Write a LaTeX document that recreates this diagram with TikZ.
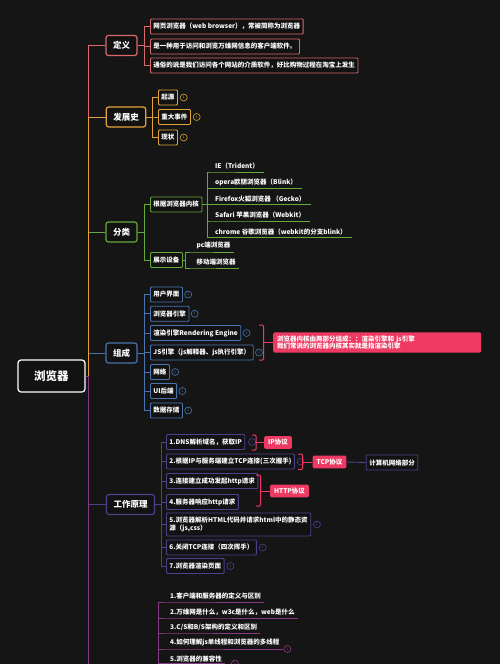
\documentclass[tikz,border=0pt]{standalone}
\usepackage{fontspec}
\setmainfont{Noto Sans CJK SC}
\usetikzlibrary{positioning}
\definecolor{pagebg}{HTML}{151515}
\definecolor{boxbg}{HTML}{121212}
\definecolor{defc}{HTML}{D9696B}
\definecolor{histc}{HTML}{E3A33B}
\definecolor{clsc}{HTML}{66A83A}
\definecolor{compc}{HTML}{4A74AE}
\definecolor{workc}{HTML}{4E3F8F}
\definecolor{miscc}{HTML}{8A3A82}
\definecolor{tagc}{HTML}{EE3A63}
\tikzset{
  topic/.style={draw=#1, line width=1.2pt, rounded corners=2.5pt, fill=boxbg, text=white,
    font=\bfseries\fontsize{8.5}{10}\selectfont, minimum height=20pt, inner xsep=7pt},
  leafbox/.style={draw=#1, line width=0.9pt, rounded corners=1pt, fill=boxbg, text=white,
    font=\bfseries\fontsize{6.5}{8}\selectfont, minimum height=15pt, inner xsep=3pt, anchor=west},
  lineleaf/.style={text=white, font=\bfseries\fontsize{6.5}{8}\selectfont,
    inner xsep=5pt, inner ysep=2.5pt, anchor=south west},
  badge/.style={circle, draw=#1, line width=0.6pt, minimum size=7pt, inner sep=0pt,
    text=#1, font=\fontsize{3.5}{4}\selectfont},
  tag/.style={fill=tagc, rounded corners=2pt, text=white,
    font=\bfseries\fontsize{6.5}{8}\selectfont, minimum height=12pt, inner xsep=4pt},
  link/.style={draw=#1, line width=0.9pt},
  brk/.style={draw=tagc, line width=1pt, rounded corners=1pt},
}
\begin{document}
\begin{tikzpicture}[x=1pt, y=-1pt]
  \useasboundingbox (0,0) rectangle (500,664);
  \clip (0,0) rectangle (500,664);
  \fill[pagebg] (0,0) rectangle (500,664);

  %%%%% root and branches %%%%%
  \node[draw=white, line width=1.2pt, rounded corners=3pt, fill=boxbg, text=white,
    minimum width=67pt, minimum height=32pt, font=\bfseries\fontsize{11.5}{13}\selectfont]
    (root) at (51.5,376) {浏览器};

  \node[topic=defc] (def) at (121.5,45.5) {定义};
  \node[topic=histc] (hist) at (126,117) {发展史};
  \node[topic=clsc] (cls) at (121.5,232) {分类};
  \node[topic=compc] (comp) at (121.5,353) {组成};
  \node[topic=workc] (work) at (130.5,504.5) {工作原理};
  \coordinate (misc) at (106,700);

  \draw[link=compc] (root.east) -- ++(3,0) |- (comp.west);
  \draw[link=clsc] (root.east) -- ++(3,0) |- (cls.west);
  \draw[link=defc] (root.east) -- ++(3,0) |- (def.west);
  \draw[link=histc] (root.east) -- ++(3,0) |- (hist.west);
  \draw[link=workc] (root.east) -- ++(3,0) |- (work.west);
  \draw[link=miscc] (root.east) -- ++(3,0) |- (misc);

  %%%%% 定义 %%%%%
  \node[leafbox=defc] (def1) at (150,26.5) {网页浏览器（web browser），常被简称为浏览器};
  \node[leafbox=defc] (def2) at (150,46.5) {是一种用于访问和浏览万维网信息的客户端软件。};
  \node[leafbox=defc] (def3) at (150,65.5) {通俗的说是我们访问各个网站的介质软件，好比购物过程在淘宝上发生};
  \draw[link=defc] (def.east) -- ++(6.5,0) |- (def1.west);
  \draw[link=defc] (def.east) -- ++(6.5,0) |- (def2.west);
  \draw[link=defc] (def.east) -- ++(6.5,0) |- (def3.west);

  %%%%% 发展史 %%%%%
  \node[leafbox=histc] (hist1) at (158,97.5) {起源};
  \node[leafbox=histc] (hist2) at (158,117) {重大事件};
  \node[leafbox=histc] (hist3) at (158,137.5) {现状};
  \node[badge=histc, right=2pt of hist1] (hb1) {1};
  \node[badge=histc, right=2pt of hist2] (hb2) {1};
  \node[badge=histc, right=2pt of hist3] (hb3) {1};
  \draw[link=histc] (hist.east) -- ++(6,0) |- (hist1.west);
  \draw[link=histc] (hist.east) -- ++(6,0) |- (hist2.west);
  \draw[link=histc] (hist.east) -- ++(6,0) |- (hist3.west);

  %%%%% 分类 %%%%%
  \node[leafbox=clsc] (kern) at (150,204.5) {根据浏览器内核};
  \node[leafbox=clsc] (disp) at (150,260) {展示设备};
  \draw[link=clsc] (cls.east) -- ++(6.5,0) |- (kern.west);
  \draw[link=clsc] (cls.east) -- ++(6.5,0) |- (disp.west);

  \node[lineleaf] (ie) at (210,172) {IE（Trident）};
  \node[lineleaf] (opera) at (210,188.5) {opera欧朋浏览器（Blink）};
  \node[lineleaf] (firefox) at (210,204.5) {Firefox火狐浏览器 （Gecko）};
  \node[lineleaf] (safari) at (210,221) {Safari 苹果浏览器（Webkit）};
  \node[lineleaf] (chrome) at (210,237.5) {chrome 谷歌浏览器（webkit的分支blink）};
  \draw[link=clsc] (kern.east) -- ++(5.5,0) |- (ie.south west) -- (ie.south east);
  \draw[link=clsc] (kern.east) -- ++(5.5,0) |- (opera.south west) -- (opera.south east);
  \draw[link=clsc] (kern.east) -- ++(5.5,0) |- (firefox.south west) -- (firefox.south east);
  \draw[link=clsc] (kern.east) -- ++(5.5,0) |- (safari.south west) -- (safari.south east);
  \draw[link=clsc] (kern.east) -- ++(5.5,0) |- (chrome.south west) -- (chrome.south east);

  \node[lineleaf, inner xsep=3pt] (pc) at (193.5,252) {pc端浏览器};
  \node[lineleaf, inner xsep=3pt] (mobile) at (193.5,268) {移动端浏览器};
  \draw[link=clsc] (disp.east) -- ++(3,0) |- (pc.south west) -- (pc.south east);
  \draw[link=clsc] (disp.east) -- ++(3,0) |- (mobile.south west) -- (mobile.south east);

  %%%%% 组成 %%%%%
  \node[leafbox=compc] (comp1) at (150,294.5) {用户界面};
  \node[leafbox=compc] (comp2) at (150,313.7) {浏览器引擎};
  \node[leafbox=compc] (comp3) at (150,333) {渲染引擎Rendering Engine};
  \node[leafbox=compc] (comp4) at (150,352.5) {JS引擎（js解释器、js执行引擎）};
  \node[leafbox=compc] (comp5) at (150,372) {网络};
  \node[leafbox=compc] (comp6) at (150,391) {UI后端};
  \node[leafbox=compc] (comp7) at (150,410.5) {数据存储};
  \node[badge=compc, right=1.5pt of comp1] (cb1) {1};
  \node[badge=compc, right=1.5pt of comp2] (cb2) {1};
  \node[badge=compc, right=1.5pt of comp3] (cb3) {1};
  \node[badge=compc, right=1.5pt of comp4] (cb4) {1};
  \node[badge=compc, right=1.5pt of comp5] (cb5) {1};
  \node[badge=compc, right=1.5pt of comp6] (cb6) {1};
  \node[badge=compc, right=1.5pt of comp7] (cb7) {1};
  \draw[link=compc] (comp.east) -- ++(6.5,0) |- (comp1.west);
  \draw[link=compc] (comp.east) -- ++(6.5,0) |- (comp2.west);
  \draw[link=compc] (comp.east) -- ++(6.5,0) |- (comp3.west);
  \draw[link=compc] (comp.east) -- ++(6.5,0) |- (comp4.west);
  \draw[link=compc] (comp.east) -- ++(6.5,0) |- (comp5.west);
  \draw[link=compc] (comp.east) -- ++(6.5,0) |- (comp6.west);
  \draw[link=compc] (comp.east) -- ++(6.5,0) |- (comp7.west);

  \node[tag, anchor=west, text width=200pt, align=left, minimum height=20pt,
    font=\bfseries\fontsize{6.5}{7.5}\selectfont] (kernnote) at (273,342.5)
    {浏览器内核由两部分组成：：渲染引擎和 js引擎\\我们常说的浏览器内核其实就是指渲染引擎};
  \draw[brk] (259,325) -- (263.5,325) -- (263.5,360) -- (259,360);
  \draw[brk] (263.5,342.5) -- (kernnote.west);

  %%%%% 工作原理 %%%%%
  \node[leafbox=workc] (w1) at (166,442) {1.DNS解析域名，获取IP};
  \node[leafbox=workc] (w2) at (166,461.5) {2.根据IP与服务端建立TCP连接(三次握手)};
  \node[leafbox=workc] (w3) at (166,481) {3.连接建立成功发起http请求};
  \node[leafbox=workc] (w4) at (166,502) {4.服务器响应http请求};
  \node[leafbox=workc, align=left, minimum height=23pt,
    font=\bfseries\fontsize{6.5}{8.5}\selectfont] (w5) at (166,524.5)
    {5.浏览器解析HTML代码并请求html中的静态资\\源（js,css）};
  \node[leafbox=workc] (w6) at (166,547.5) {6.关闭TCP连接（四次挥手）};
  \node[leafbox=workc] (w7) at (166,566) {7.浏览器渲染页面};
  \node[badge=workc, right=3pt of w1] (wb1) {1};
  \node[badge=workc, right=2pt of w2] (wb2) {1};
  \node[badge=workc, right=2pt of w5] (wb5) {1};
  \node[badge=workc, right=2pt of w6] (wb6) {1};
  \node[badge=workc, right=2pt of w7] (wb7) {1};
  \draw[link=workc] (work.east) -- ++(6,0) |- (w1.west);
  \draw[link=workc] (work.east) -- ++(6,0) |- (w2.west);
  \draw[link=workc] (work.east) -- ++(6,0) |- (w3.west);
  \draw[link=workc] (work.east) -- ++(6,0) |- (w4.west);
  \draw[link=workc] (work.east) -- ++(6,0) |- (w5.west);
  \draw[link=workc] (work.east) -- ++(6,0) |- (w6.west);
  \draw[link=workc] (work.east) -- ++(6,0) |- (w7.west);

  \node[tag] (iptag) at (278,442.5) {IP协议};
  \draw[brk] (252,435) -- (256,435) -- (256,450) -- (252,450);
  \draw[brk] (256,442.5) -- (iptag.west);

  \node[tag] (tcptag) at (329.5,462) {TCP协议};
  \node[leafbox=workc, anchor=center] (net) at (392,462.5) {计算机网络部分};
  \draw[brk] (298,454) -- (302.5,454) -- (302.5,469.5) -- (298,469.5);
  \draw[brk] (302.5,462) -- (tcptag.west);
  \draw[link=workc] (tcptag.east) -- (net.west);

  \node[tag] (httptag) at (289.5,491) {HTTP协议};
  \draw[brk] (256,475) -- (260.5,475) -- (260.5,506) -- (256,506);
  \draw[brk] (260.5,491) -- (httptag.west);

  %%%%% 其他 %%%%%
  \coordinate (miscbus) at (158,700);
  \node[lineleaf, inner xsep=3pt] (m1) at (167,602) {1.客户端和服务器的定义与区别};
  \node[lineleaf, inner xsep=3pt] (m2) at (167,618) {2.万维网是什么，w3c是什么，web是什么};
  \node[lineleaf, inner xsep=3pt] (m3) at (167,633) {3.C/S和B/S架构的定义和区别};
  \node[lineleaf, inner xsep=3pt] (m4) at (167,649) {4.如何理解js单线程和浏览器的多线程};
  \node[lineleaf, inner xsep=3pt, inner ysep=1.5pt] (m5) at (167,663.5) {5.浏览器的兼容性};
  \node[badge=miscc, right=1pt of m4.south east, anchor=west] (mb4) {1};
  \node[badge=miscc, right=6pt of m5.south east, anchor=west] (mb5) {1};
  \draw[link=miscc] (miscbus) |- (m1.south west) -- (m1.south east);
  \draw[link=miscc] (miscbus) |- (m2.south west) -- (m2.south east);
  \draw[link=miscc] (miscbus) |- (m3.south west) -- (m3.south east);
  \draw[link=miscc] (miscbus) |- (m4.south west) -- (m4.south east);
  \draw[link=miscc] (miscbus) |- (m5.south west) -- (m5.south east);
\end{tikzpicture}
\end{document}
